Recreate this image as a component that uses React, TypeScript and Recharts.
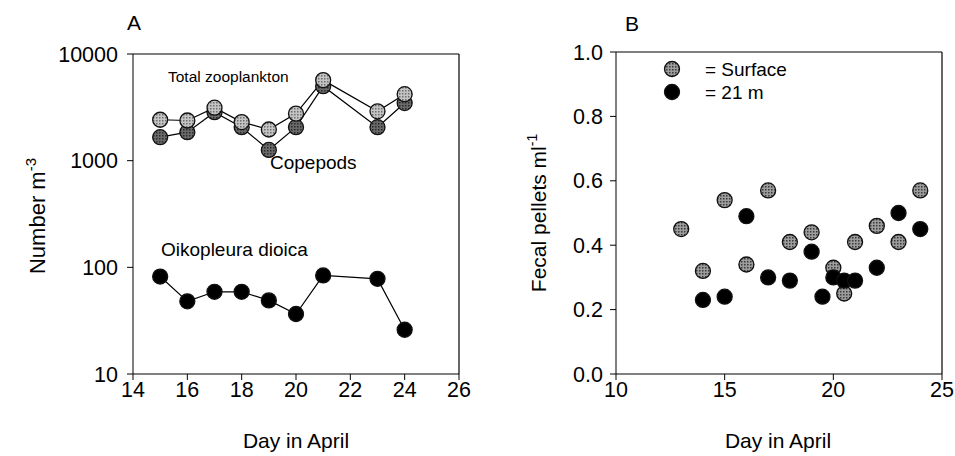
import React from "react"
import {
  LineChart,
  Line,
  XAxis,
  YAxis,
  ReferenceLine,
  Customized,
  ScatterChart,
  Scatter,
} from "recharts"

// Panel A: abundance by day (log scale)
const days = [15, 16, 17, 18, 19, 20, 21, 23, 24]
const totalZooplankton = [2420, 2380, 3140, 2300, 1960, 2760, 5690, 2900, 4200]
const copepods = [1660, 1850, 2850, 2060, 1260, 2060, 4990, 2060, 3470]
const oikopleura = [82, 48, 59, 59, 49, 36.5, 84, 78, 26]
const dayTicksA = [14, 16, 18, 20, 22, 24, 26]
const numberTicks = [10, 100, 1000, 10000]

// Panel B: fecal pellet concentration
const surfaceDays = [13, 14, 15, 16, 17, 18, 19, 20, 20.5, 21, 22, 23, 24]
const surfacePellets = [0.45, 0.32, 0.54, 0.34, 0.57, 0.41, 0.44, 0.33, 0.25, 0.41, 0.46, 0.41, 0.57]
const deepDays = [14, 15, 16, 17, 18, 19, 19.5, 20, 20.5, 21, 22, 23, 24]
const deepPellets = [0.23, 0.24, 0.49, 0.3, 0.29, 0.38, 0.24, 0.3, 0.29, 0.29, 0.33, 0.5, 0.45]
const dayTicksB = [10, 15, 20, 25]
const pelletTicks = [0, 0.2, 0.4, 0.6, 0.8, 1.0]
const legendLabels = ["= Surface", "= 21 m"]

const FONT = "'Liberation Sans', Arial, sans-serif"

const abundanceData = days.map((d, i) => ({
  day: d,
  total: totalZooplankton[i],
  copepods: copepods[i],
  oiko: oikopleura[i],
}))
const surfaceData = surfaceDays.map((d, i) => ({ day: d, pellets: surfacePellets[i] }))
const deepData = deepDays.map((d, i) => ({ day: d, pellets: deepPellets[i] }))

const tickStyle = { fontSize: 21.5, fill: "#000", fontFamily: FONT }

// halftone-style fills for the grey markers
function Patterns() {
  return (
    <defs>
      <pattern id="screenLight" width="3" height="3" patternUnits="userSpaceOnUse">
        <rect width="3" height="3" fill="#c4c4c4" />
        <rect width="1.5" height="1.5" fill="#6e6e6e" />
      </pattern>
      <pattern id="screenDark" width="3" height="3" patternUnits="userSpaceOnUse">
        <rect width="3" height="3" fill="#6a6a6a" />
        <rect width="1.5" height="1.5" fill="#2a2a2a" />
      </pattern>
      <pattern id="screenMid" width="3" height="3" patternUnits="userSpaceOnUse">
        <rect width="3" height="3" fill="#9c9c9c" />
        <rect width="1.5" height="1.5" fill="#3a3a3a" />
      </pattern>
    </defs>
  )
}

const dotFor = (fill: string, r: number) => (props: any) => {
  const { cx, cy, index } = props
  if (cx == null || cy == null) return <g key={index} />
  return <circle key={index} cx={cx} cy={cy} r={r} fill={fill} stroke="#111" strokeWidth={1.3} />
}

function PanelA() {
  return (
    <LineChart
      width={480}
      height={456}
      data={abundanceData}
      margin={{ top: 54, right: 21, bottom: 52, left: 73 }}
    >
      <Patterns />
      <XAxis
        dataKey="day"
        type="number"
        domain={[14, 26]}
        ticks={dayTicksA}
        tickSize={6}
        tickMargin={2}
        height={30}
        stroke="#000"
        tick={tickStyle}
      />
      <YAxis
        scale="log"
        domain={[10, 10000]}
        ticks={numberTicks}
        allowDataOverflow
        tickSize={6}
        tickMargin={9}
        width={60}
        stroke="#000"
        tick={tickStyle}
      />
      <ReferenceLine y={10000} stroke="#000" strokeWidth={1.2} />
      <ReferenceLine x={26} stroke="#000" strokeWidth={1.2} />
      <Line
        dataKey="copepods"
        stroke="#000"
        strokeWidth={1.2}
        dot={dotFor("url(#screenDark)", 7.5)}
        isAnimationActive={false}
      />
      <Line
        dataKey="total"
        stroke="#000"
        strokeWidth={1.2}
        dot={dotFor("url(#screenLight)", 7.5)}
        isAnimationActive={false}
      />
      <Line
        dataKey="oiko"
        stroke="#000"
        strokeWidth={1.2}
        dot={dotFor("#000", 7.5)}
        isAnimationActive={false}
      />
      <Customized
        component={() => (
          <g fontFamily={FONT} fill="#000">
            <text x={127} y={30} fontSize={21}>A</text>
            <text x={168} y={82} fontSize={15.5}>Total zooplankton</text>
            <text x={270} y={169} fontSize={19}>Copepods</text>
            <text x={161} y={256} fontSize={19}>Oikopleura dioica</text>
            <text x={296} y={448} fontSize={21} textAnchor="middle">Day in April</text>
            <text transform="translate(45,216) rotate(-90)" fontSize={22} textAnchor="middle">
              Number m<tspan dy={-9} fontSize={15}>-3</tspan>
            </text>
          </g>
        )}
      />
    </LineChart>
  )
}

function PanelB() {
  return (
    <ScatterChart
      width={475}
      height={456}
      margin={{ top: 52, right: 13, bottom: 52, left: 76 }}
    >
      <Patterns />
      <XAxis
        dataKey="day"
        type="number"
        domain={[10, 25]}
        ticks={dayTicksB}
        tickSize={6}
        tickMargin={2}
        height={30}
        stroke="#000"
        tick={tickStyle}
      />
      <YAxis
        dataKey="pellets"
        type="number"
        domain={[0, 1]}
        ticks={pelletTicks}
        tickFormatter={(v: number) => v.toFixed(1)}
        tickSize={6}
        tickMargin={7}
        width={60}
        stroke="#000"
        tick={tickStyle}
      />
      <ReferenceLine y={1} stroke="#000" strokeWidth={1.2} />
      <ReferenceLine x={25} stroke="#000" strokeWidth={1.2} />
      <Scatter
        data={surfaceData}
        shape={dotFor("url(#screenMid)", 7.5)}
        isAnimationActive={false}
      />
      <Scatter data={deepData} shape={dotFor("#000", 7.5)} isAnimationActive={false} />
      <Customized
        component={() => (
          <g fontFamily={FONT} fill="#000">
            <text x={145} y={31} fontSize={21}>B</text>
            {/* legend */}
            <circle cx={192} cy={69} r={7.5} fill="url(#screenMid)" stroke="#111" strokeWidth={1.3} />
            <circle cx={192} cy={92} r={7.5} fill="#000" stroke="#111" strokeWidth={1.3} />
            <text x={225} y={76} fontSize={19}>{legendLabels[0]}</text>
            <text x={225} y={99} fontSize={19}>{legendLabels[1]}</text>
            <text x={298} y={448} fontSize={21} textAnchor="middle">Day in April</text>
            <text transform="translate(66,213) rotate(-90)" fontSize={21} textAnchor="middle">
              Fecal pellets ml<tspan dy={-9} fontSize={14}>-1</tspan>
            </text>
          </g>
        )}
      />
    </ScatterChart>
  )
}

export default function App() {
  return (
    <div
      style={{
        position: "absolute",
        left: 0,
        top: 0,
        width: 955,
        height: 456,
        background: "#fff",
        display: "flex",
      }}
    >
      <PanelA />
      <PanelB />
    </div>
  )
}
